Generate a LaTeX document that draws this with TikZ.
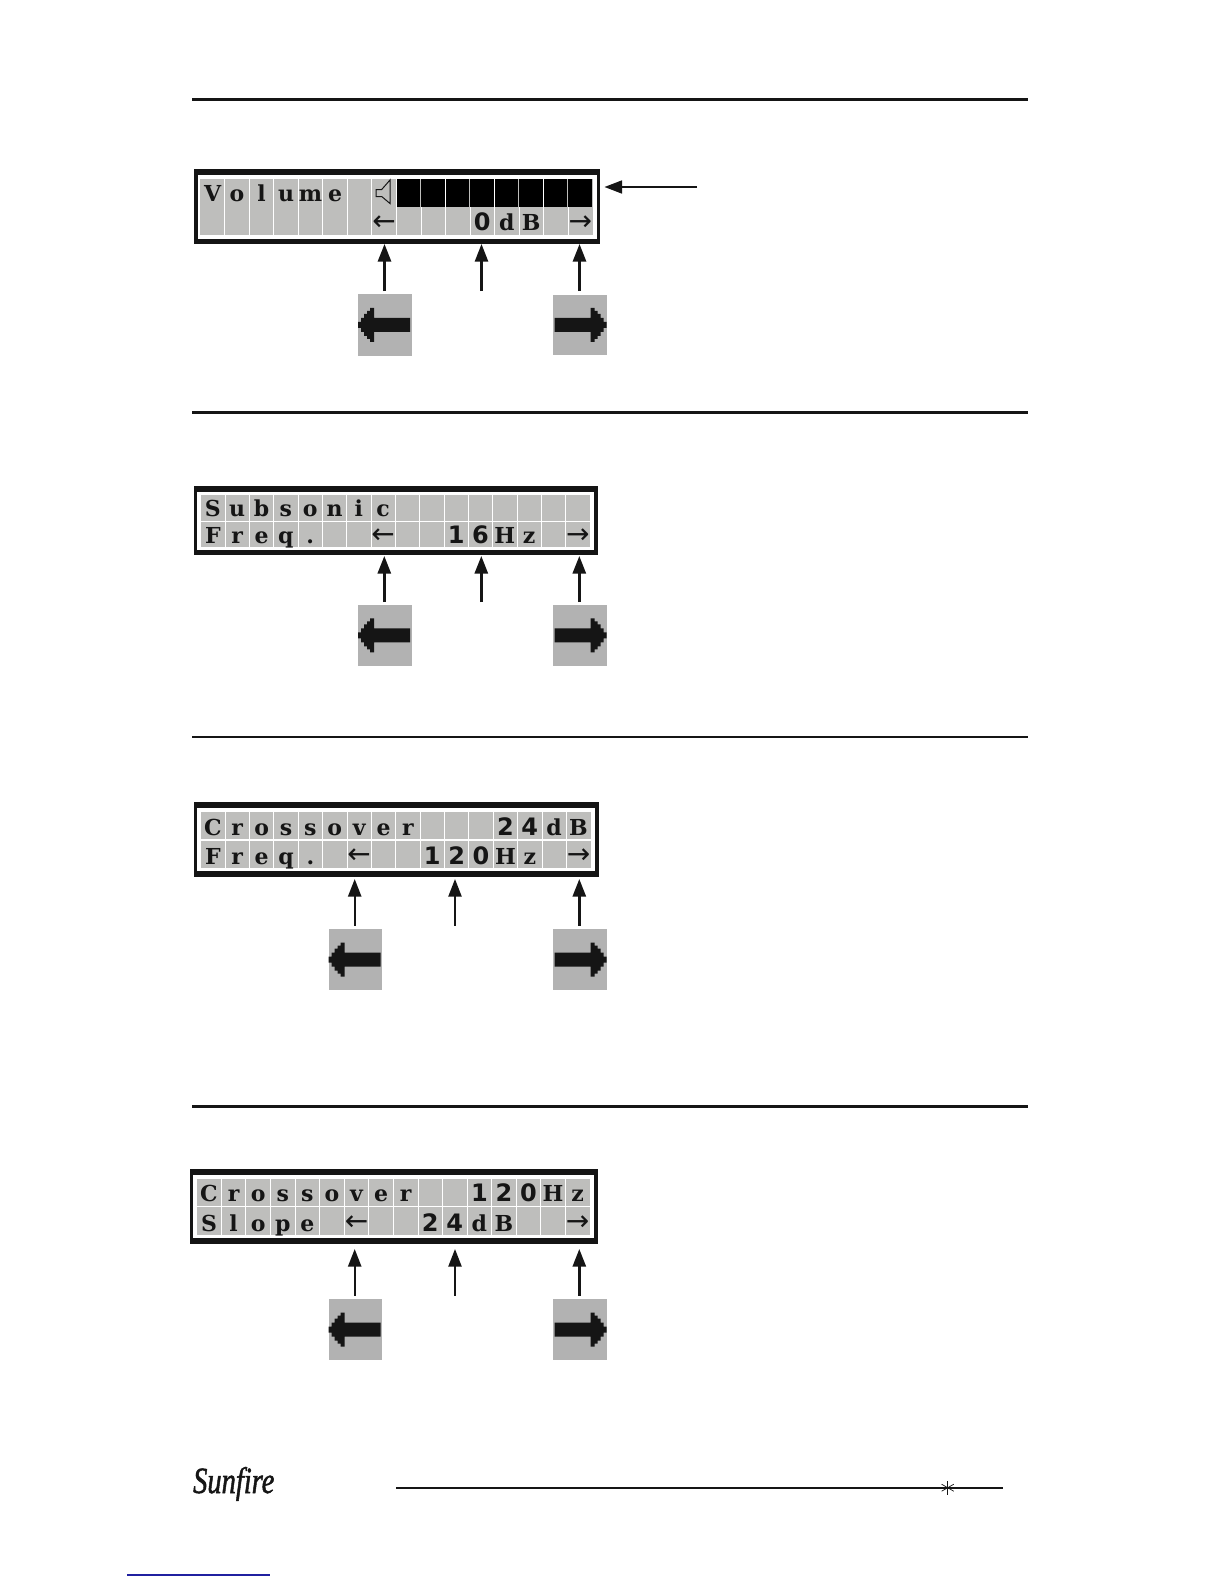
\documentclass[tikz,border=0pt]{standalone}
\usepackage{fontspec}
\setmainfont{Liberation Serif}
\newfontfamily\digfont{DejaVu Sans}
\newfontfamily\symfont{DejaVu Sans}
\newfontfamily\slabfont{DejaVu Serif}
\newfontfamily\logofont[ItalicFeatures={FakeBold=1.5}]{Liberation Serif}
\usetikzlibrary{arrows.meta}
\definecolor{lcdgrey}{HTML}{BEBEBC}
\definecolor{btngrey}{HTML}{B2B2B2}
\definecolor{ink}{HTML}{151515}
\definecolor{linkblue}{HTML}{2020A0}
\tikzset{
  rulebar/.style={draw=ink,line width=#1},
  ptr/.style={draw=ink,line width=#1,-{Triangle[length=17.5pt,width=13pt,fill=ink]}},
  lcdchar/.style={inner sep=0pt,anchor=base,text=ink,font=\fontsize{22}{22}\selectfont\slabfont\bfseries},
  lcddigit/.style={inner sep=0pt,anchor=base,text=ink,font=\fontsize{24}{24}\selectfont\digfont\bfseries},
  lcdsym/.style={inner sep=0pt,anchor=base,text=ink,font=\fontsize{28}{28}\selectfont\symfont},
  btnbox/.style={fill=btngrey,draw=none,inner sep=0pt,minimum width=53.5pt,minimum height=#1},
}
\newcommand{\panelframe}[8]{%
  \fill[black!92] (#1,#2) rectangle (#3,#4);
  \fill[white] (#5,#6) rectangle (#7,#8);
  \fill[lcdgrey] (\cx,\rat) rectangle (\cxe,\rab);
  \fill[lcdgrey] (\cx,\rbt) rectangle (\cxe,\rbb);
  \foreach \k in {1,...,15}{
    \pgfmathsetmacro{\gx}{\cx+(\cxe-\cx)*\k/16}
    \draw[white,line width=0.8pt] (\gx,\rat) -- (\gx,\rbb);
  }
}
\newcommand{\cellx}[1]{\cx+(\cxe-\cx)*(#1+.5)/16}
\newcommand{\rowtext}[4]{% style, name, baseline, list
  \foreach \i/\c in {#4}{
    \node[#1] (#2-\i) at ({\cellx{\i}},#3) {\c};
  }
}
\newcommand{\uparrowat}[5]{% name x tip end width
  \coordinate (#1-s) at (#2,#4);
  \coordinate (#1-t) at (#2,#3);
  \draw[ptr=#5] (#1-s) -- (#1-t);
}
\newcommand{\btnleft}[5]{% name x0 y0 x1 y1
  \node[btnbox={(#5-#3)*1pt}] (#1) at ({(#2+#4)/2},{(#3+#5)/2}) {};
  \fill[ink,shift={(#2,{(#3+#5)/2})}]
    (0,-3) -- (3,-3) -- (3,-7) -- (6,-7) -- (6,-11) -- (9,-11) -- (9,-14) -- (12,-14) -- (12,-17) -- (16,-17)
    -- (16,-7) -- (52,-7) -- (52,7) -- (16,7) -- (16,17) -- (12,17) -- (12,14) -- (9,14) -- (9,11) -- (6,11) -- (6,7) -- (3,7) -- (3,3) -- (0,3) -- cycle;
}
\newcommand{\btnright}[5]{%
  \node[btnbox={(#5-#3)*1pt}] (#1) at ({(#2+#4)/2},{(#3+#5)/2}) {};
  \fill[ink,shift={(#4,{(#3+#5)/2})}]
    (0,-3) -- (-3,-3) -- (-3,-7) -- (-6,-7) -- (-6,-11) -- (-9,-11) -- (-9,-14) -- (-12,-14) -- (-12,-17) -- (-16,-17)
    -- (-16,-7) -- (-52,-7) -- (-52,7) -- (-16,7) -- (-16,17) -- (-12,17) -- (-12,14) -- (-9,14) -- (-9,11) -- (-6,11) -- (-6,7) -- (-3,7) -- (-3,3) -- (0,3) -- cycle;
}
\begin{document}
\begin{tikzpicture}[x=1pt,y=-1pt]
\useasboundingbox (0,0) rectangle (1224,1584);
\fill[white] (0,0) rectangle (1224,1584);
% section rules
\draw[rulebar=3pt] (192,99.8) -- (1028,99.8);
\draw[rulebar=3pt] (192,412) -- (1028,412);
\draw[rulebar=2pt] (192,737) -- (1028,737);
\draw[rulebar=3pt] (192,1106) -- (1028,1106);

% ---- panel 1
\def\cx{200.3}\def\cxe{592.5}\def\rat{178.5}\def\rab{206.5}\def\rbt{207.3}\def\rbb{234.5}
\panelframe{194}{169}{600}{243.5}{197.5}{174.5}{596.5}{238.5}
\foreach \k in {8,...,15}{
  \pgfmathsetmacro{\xa}{\cx+(\cxe-\cx)*\k/16+.5}
  \pgfmathsetmacro{\xb}{\cx+(\cxe-\cx)*(\k+1)/16-.5}
  \fill[black] (\xa,\rat) rectangle (\xb,\rab);
}
\draw[ink,line width=1pt,line join=miter] (376,189.5) -- (381.7,189.5) -- (390,180) -- (390,203.5) -- (381.7,196.5) -- (376,196.5) -- cycle;
\rowtext{lcdchar}{pa-u}{201}{0/V,1/o,2/l,3/u,4/m,5/e}
\rowtext{lcdsym}{pa-l}{230}{7/←,15/→}
\rowtext{lcddigit}{pa-d}{230.5}{11/0}
\rowtext{lcdchar}{pa-t}{230.5}{12/d,13/B}
\uparrowat{pa1}{384.5}{244}{291}{2.6pt}
\uparrowat{pa2}{481.5}{244}{291}{2.2pt}
\uparrowat{pa3}{579.5}{244}{291}{2.6pt}
\coordinate (pbs) at (697,187);
\coordinate (pbt) at (604.5,187);
\draw[ptr=1.6pt] (pbs) -- (pbt);
\btnleft{pabl}{358}{294}{411.7}{355.5}
\btnright{pabr}{553.3}{295}{606.7}{354.5}

% ---- panel 2
\def\cx{200.7}\def\cxe{590}\def\rat{495}\def\rab{520.5}\def\rbt{521.7}\def\rbb{546.7}
\panelframe{194}{486}{597.7}{555}{197.3}{491.7}{593.7}{550}
\rowtext{lcdchar}{pc-u}{516.5}{0/S,1/u,2/b,3/s,4/o,5/n,6/i,7/c}
\rowtext{lcdchar}{pc-l}{543.5}{0/F,1/r,2/e,3/q,4/.,12/H,13/z}
\rowtext{lcdsym}{pc-s}{543}{7/←,15/→}
\rowtext{lcddigit}{pc-d}{543.5}{10/1,11/6}
\uparrowat{pc1}{384.3}{556}{602}{2.6pt}
\uparrowat{pc2}{481.3}{556}{602}{2.6pt}
\uparrowat{pc3}{579.3}{556}{602}{2.6pt}
\btnleft{pcbl}{358}{605}{411.7}{665.7}
\btnright{pcbr}{553.3}{605}{606.7}{665.7}

% ---- panel 3
\def\cx{200.7}\def\cxe{590.7}\def\rat{812.3}\def\rab{839.3}\def\rbt{841}\def\rbb{867.7}
\panelframe{194}{802.3}{598.7}{876.7}{197.3}{808.3}{594.7}{871}
\rowtext{lcdchar}{pe-u}{835}{0/C,1/r,2/o,3/s,4/s,5/o,6/v,7/e,8/r,14/d,15/B}
\rowtext{lcddigit}{pe-a}{835}{12/2,13/4}
\rowtext{lcdchar}{pe-l}{864}{0/F,1/r,2/e,3/q,4/.,12/H,13/z}
\rowtext{lcdsym}{pe-s}{863}{6/←,15/→}
\rowtext{lcddigit}{pe-d}{864}{9/1,10/2,11/0}
\uparrowat{pe1}{354.7}{879}{925.7}{2.2pt}
\uparrowat{pe2}{455}{879}{925.7}{2pt}
\uparrowat{pe3}{579.3}{879}{925.7}{2.4pt}
\btnleft{pebl}{328.7}{929.3}{382.3}{990}
\btnright{pebr}{553.3}{929.3}{606.7}{990}

% ---- panel 4
\def\cx{196.7}\def\cxe{590}\def\rat{1179}\def\rab{1206}\def\rbt{1207.3}\def\rbb{1235}
\panelframe{190}{1169}{597.7}{1244}{193}{1175}{593.7}{1238}
\rowtext{lcdchar}{pg-u}{1201}{0/C,1/r,2/o,3/s,4/s,5/o,6/v,7/e,8/r,14/H,15/z}
\rowtext{lcddigit}{pg-a}{1201}{11/1,12/2,13/0}
\rowtext{lcdchar}{pg-l}{1231}{0/S,1/l,2/o,3/p,4/e,11/d,12/B}
\rowtext{lcdsym}{pg-s}{1230}{6/←,15/→}
\rowtext{lcddigit}{pg-d}{1231}{9/2,10/4}
\uparrowat{pg1}{354.7}{1249}{1295.7}{2.2pt}
\uparrowat{pg2}{455}{1249}{1295.7}{2pt}
\uparrowat{pg3}{579.3}{1249}{1295.7}{2.4pt}
\btnleft{pgbl}{328.7}{1299}{382.3}{1360}
\btnright{pgbr}{553.3}{1299}{606.7}{1360}

% ---- footer
\node[inner sep=0pt,anchor=base west,xscale=.77,transform shape,text=ink,font=\fontsize{37}{37}\selectfont\logofont\itshape] (logo) at (193,1493) {Sunfire};
\draw[rulebar=2.2pt] (396,1487.7) -- (1003.3,1487.7);
\foreach \a in {90,30,150}{
  \draw[ink,line width=.7pt] (947.7,1487.7) ++(\a:7) -- ++(\a+180:14);
}
\draw[linkblue,line width=1.1pt] (127.3,1575) -- (270,1575);
\end{tikzpicture}
\end{document}
